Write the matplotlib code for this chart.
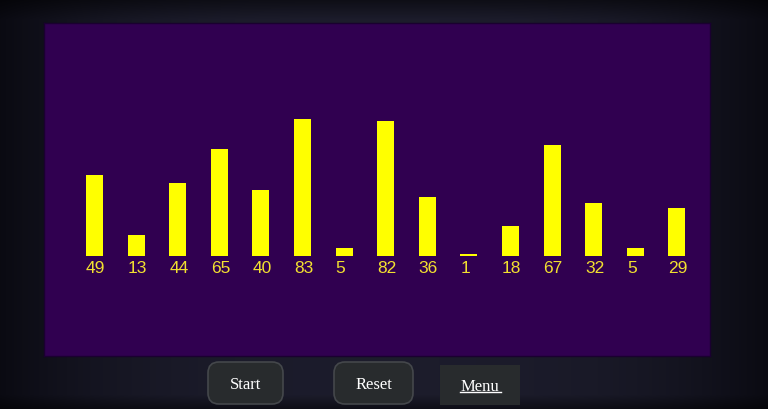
import numpy as np
import matplotlib
matplotlib.use("Agg")
import matplotlib.pyplot as plt
from matplotlib.patches import FancyBboxPatch, Rectangle

values = [49, 13, 44, 65, 40, 83, 5, 82, 36, 1, 18, 67, 32, 5, 29]
labels = [str(v) for v in values]
buttons = ["Start", "Reset", "Menu"]

W, H = 768, 410
fig = plt.figure(figsize=(W / 100, H / 100), dpi=100)

# background (dark bezel)
bg = fig.add_axes([0, 0, 1, 1])
bg.set_xlim(0, W)
bg.set_ylim(H, 0)
bg.axis("off")
yy, xx = np.mgrid[0:H, 0:W]
base = np.zeros((H, W, 3))
c_center = np.array([0.11, 0.11, 0.17])
c_edge = np.array([0.04, 0.04, 0.07])
dx = np.abs(xx - W / 2) / (W / 2)
t = np.clip(dx ** 3, 0, 1)
for k in range(3):
    base[..., k] = c_center[k] * (1 - t) + c_edge[k] * t
top = np.clip((20 - yy) / 20, 0, 1)
bot = np.clip((yy - 395) / 15, 0, 1)
for k in range(3):
    base[..., k] *= (1 - 0.5 * top) * (1 - 0.5 * bot)
bg.imshow(base, extent=[0, W, H, 0], aspect="auto", zorder=0)

# buttons
def button(x0, x1, y0, y1, text, rounded=True, underline=False):
    if rounded:
        p = FancyBboxPatch((x0 + 11, y0 + 11), (x1 - x0) - 22, (y1 - y0) - 22,
                           boxstyle="round,pad=11", fc="#282b2d", ec="#44474b",
                           lw=1.2, zorder=2)
    else:
        p = Rectangle((x0, y0), x1 - x0, y1 - y0, fc="#282b2d", ec="none", zorder=2)
    bg.add_patch(p)
    bg.text((x0 + x1) / 2, (y0 + y1) / 2 + 1, text, color="white",
            family="Liberation Serif", fontsize=12, ha="center", va="center", zorder=3)
    if underline:
        bg.plot([460, 501], [393, 393], color="white", lw=1, zorder=3)

button(208, 283, 363, 405, buttons[0])
button(334, 413, 363, 405, buttons[1])
button(440, 520, 366, 406, buttons[2], rounded=False, underline=True)

# panel with bars
ax = fig.add_axes([44 / W, (H - 357) / H, 666 / W, 333 / H])
ax.set_facecolor("#300050")
for s in ax.spines.values():
    s.set_color("#1a0030")
    s.set_linewidth(1)
ax.set_xticks([])
ax.set_yticks([])
pitch = 41.6
ppu = 1.65
x_left = -50.5 / pitch
ax.set_xlim(x_left, x_left + 666 / pitch)
y_bot = -100 / ppu
ax.set_ylim(y_bot, y_bot + 333 / ppu)
x = np.arange(len(values))
bw = 17 / pitch
ax.bar(x, values, width=bw, color="#ffff00", zorder=2)
for xi, lab in zip(x, labels):
    ax.text(xi - bw / 2, -2.5, lab, color="#f2e030", fontsize=12.5,
            family="Liberation Sans", ha="left", va="top")

fig.savefig("out.png", dpi=100)
